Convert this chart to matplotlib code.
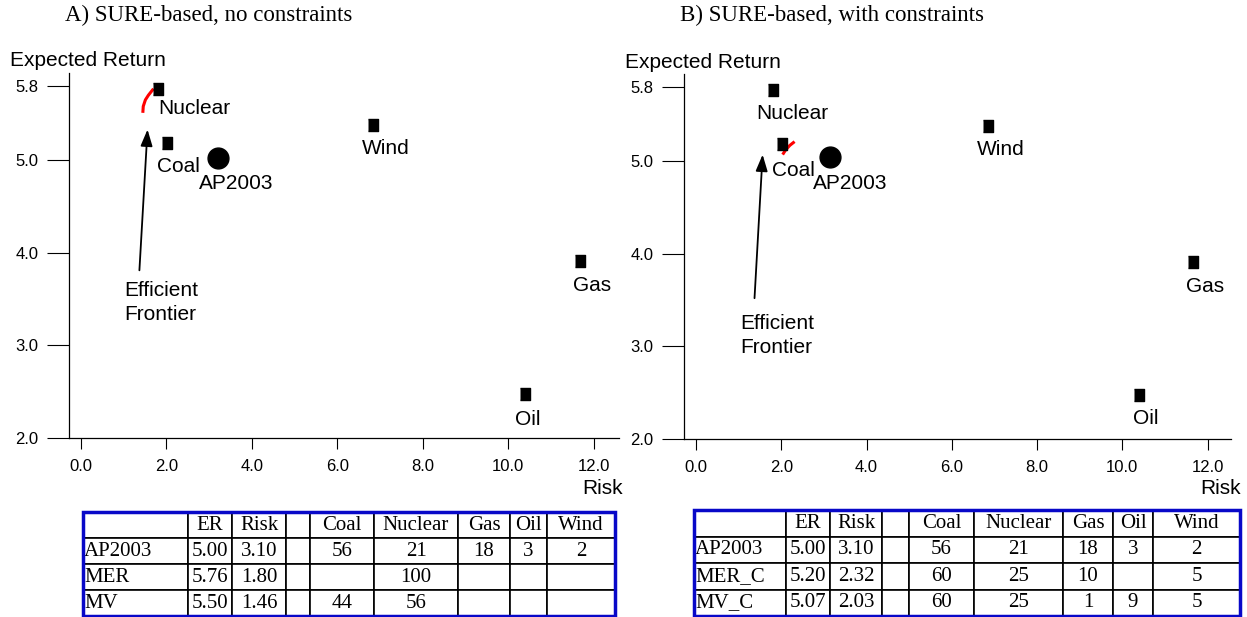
import numpy as np
import matplotlib
matplotlib.use("Agg")
import matplotlib.pyplot as plt
from matplotlib.patches import Rectangle

plt.rcParams['font.family'] = ['Liberation Sans', 'DejaVu Sans']

# ---- values ----
sources = ["Coal", "Nuclear", "Gas", "Oil", "Wind"]
src_risk = [2.02, 1.80, 11.67, 10.40, 6.84]
src_er = [5.18, 5.77, 3.91, 2.47, 5.38]

# AP2003 portfolio (panel A, panel B)
ap_risk = [3.22, 3.14]
ap_er = [5.02, 5.04]

# efficient frontiers
front_a_risk = [1.45, 1.46, 1.51, 1.58, 1.70]
front_a_er = [5.51, 5.58, 5.65, 5.70, 5.77]
front_b_risk = [2.03, 2.10, 2.20, 2.31]
front_b_er = [5.07, 5.12, 5.17, 5.21]

y_ticks = [2.0, 3.0, 4.0, 5.0, 5.8]
x_ticks = [0.0, 2.0, 4.0, 6.0, 8.0, 10.0, 12.0]

tbl_header = ["", "ER", "Risk", "", "Coal", "Nuclear", "Gas", "Oil", "Wind"]
tbl_a_names = ["AP2003", "MER", "MV"]
tbl_a_er = ["5.00", "5.76", "5.50"]
tbl_a_risk = ["3.10", "1.80", "1.46"]
tbl_a_mix = [["56", "21", "18", "3", "2"],
             ["", "100", "", "", ""],
             ["44", "56", "", "", ""]]
tbl_b_names = ["AP2003", "MER_C", "MV_C"]
tbl_b_er = ["5.00", "5.20", "5.07"]
tbl_b_risk = ["3.10", "2.32", "2.03"]
tbl_b_mix = [["56", "21", "18", "3", "2"],
             ["60", "25", "10", "", "5"],
             ["60", "25", "1", "9", "5"]]

W, H = 1247, 617
fig = plt.figure(figsize=(W / 100, H / 100), dpi=100)


def fx(px):
    return px / W


def fy(py):
    return 1 - py / H


box_marker = [(-0.8, -1), (0.8, -1), (0.8, 1), (-0.8, 1)]


def draw_panel(ax, xlim, k, front_risk, front_er, tail, head, eff_pos, offsets):
    ax.set_xlim(*xlim)
    ax.set_ylim(2.0, 5.94)
    for s in ["top", "right"]:
        ax.spines[s].set_visible(False)
    ax.spines["left"].set_linewidth(0.9)
    ax.spines["bottom"].set_linewidth(0.9)
    ax.set_yticks(y_ticks)
    ax.set_yticklabels(["%.1f" % v for v in y_ticks])
    ax.set_xticks(x_ticks)
    ax.set_xticklabels(["%.1f" % v for v in x_ticks])
    ax.tick_params(axis="y", length=15.8, width=0.8, pad=6.5, labelsize=12)
    ax.tick_params(axis="x", length=8, width=0.8, pad=7, labelsize=12)

    ax.plot(front_risk, front_er, color="#ff0000", lw=2.2, solid_capstyle="butt", zorder=2)
    ax.plot(src_risk, src_er, linestyle="none", marker=box_marker, markersize=9,
            color="black", zorder=3)
    ax.plot(ap_risk[k], ap_er[k], linestyle="none", marker="o", markersize=15,
            color="black", zorder=3)

    names = sources + ["AP2003"]
    xs = src_risk + [ap_risk[k]]
    ys = src_er + [ap_er[k]]
    for name, x, y, (dx, dy) in zip(names, xs, ys, offsets):
        ax.annotate(name, (x, y), xytext=(dx * 0.72, -dy * 0.72), textcoords="offset points",
                    ha="left", va="center", fontsize=15)

    ax.annotate("", xy=head, xytext=tail,
                arrowprops=dict(arrowstyle="-|>,head_length=0.5,head_width=0.18",
                                mutation_scale=20, lw=1.3, color="black",
                                shrinkA=0, shrinkB=0))
    ax.text(eff_pos[0], eff_pos[1], "Efficient\nFrontier", ha="left", va="top",
            fontsize=15, linespacing=1.35)


axA = fig.add_axes([fx(69.3), fy(438), fx(619 - 69.3), (438 - 73) / H])
draw_panel(axA, (-0.27, 12.59), 0, front_a_risk, front_a_er,
           (1.37, 3.81), (1.56, 5.33), (1.01, 3.70),
           [(-10, 23), (0, 20), (-7, 24), (-10, 25), (-11, 24), (-20, 25)])

axB = fig.add_axes([fx(684.4), fy(439), fx(1231 - 684.4), (439 - 74) / H])
draw_panel(axB, (-0.275, 12.55), 1, front_b_risk, front_b_er,
           (1.37, 3.52), (1.56, 5.07), (1.03, 3.35),
           [(-10, 26), (-17, 24), (-7, 24), (-6, 23), (-11, 24), (-17, 26)])

# titles and axis names
fig.text(fx(65), fy(15), "A) SURE-based, no constraints", family="Liberation Serif",
         fontsize=16.5, ha="left", va="center")
fig.text(fx(680), fy(15), "B) SURE-based, with constraints", family="Liberation Serif",
         fontsize=16.5, ha="left", va="center")
fig.text(fx(10), fy(60), "Expected Return", fontsize=15, ha="left", va="center")
fig.text(fx(625), fy(62), "Expected Return", fontsize=15, ha="left", va="center")
fig.text(fx(623), fy(488), "Risk", fontsize=15, ha="right", va="center")
fig.text(fx(1241), fy(489), "Risk", fontsize=15, ha="right", va="center")


def draw_table(rect_px, col_px, names, er, risk, mix):
    x0, y0, x1, y1 = rect_px
    axT = fig.add_axes([fx(x0), fy(y1), fx(x1 - x0), (y1 - y0) / H])
    axT.axis("off")
    rows = [tbl_header]
    for i in range(len(names)):
        rows.append([names[i], er[i], risk[i], ""] + mix[i])
    total = float(sum(col_px))
    tbl = axT.table(cellText=rows, colWidths=[w / total for w in col_px],
                    cellLoc="center", bbox=[0, 0, 1, 1])
    tbl.auto_set_font_size(False)
    tbl.set_fontsize(15)
    for (r, c), cell in tbl.get_celld().items():
        cell.set_edgecolor("black")
        cell.set_linewidth(1.2)
        cell.get_text().set_fontfamily("Liberation Serif")
        if c == 0:
            cell.PAD = 0.01
            cell.get_text().set_horizontalalignment("left")
            cell._loc = "left"
    axT.add_patch(Rectangle((0, 0), 1, 1, transform=axT.transAxes, fill=False,
                            ec="#0808c8", lw=2.5, clip_on=False, zorder=5))


draw_table((83, 512, 615, 616), [105, 44, 54, 24, 64, 84, 52, 37, 68],
           tbl_a_names, tbl_a_er, tbl_a_risk, tbl_a_mix)
draw_table((694, 510, 1240, 616), [92, 44, 52, 27, 65, 89, 50, 40, 87],
           tbl_b_names, tbl_b_er, tbl_b_risk, tbl_b_mix)

fig.savefig("out.png", dpi=100)
